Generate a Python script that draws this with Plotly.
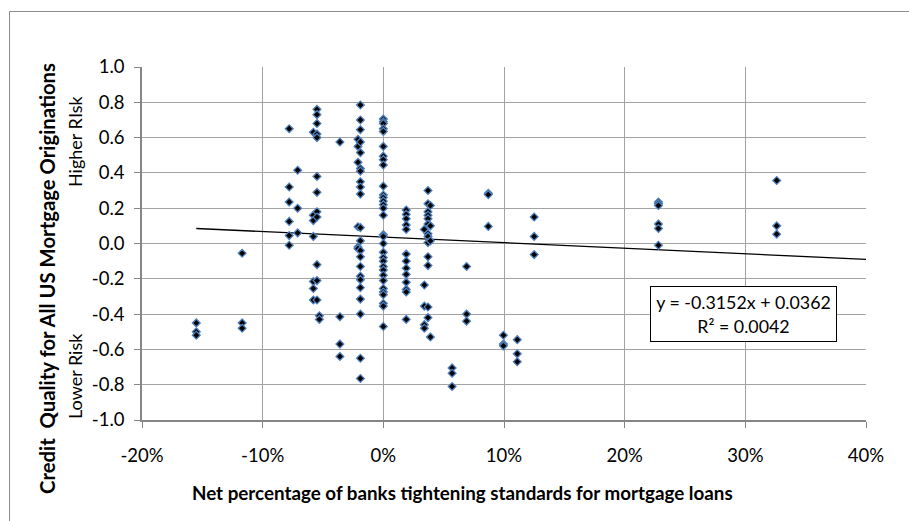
import plotly.graph_objects as go

# Net percentage of banks tightening mortgage standards (one value per group)
tightening = [-0.155, -0.117, -0.078, -0.071, -0.058, -0.055, -0.053, -0.036,
              -0.021, -0.019, 0.0, 0.019, 0.034, 0.037, 0.039, 0.057, 0.069,
              0.087, 0.0995, 0.111, 0.125, 0.228, 0.326]

# Credit quality readings observed at each tightening level
q_m155 = [-0.45, -0.50, -0.52]
q_m117 = [-0.055, -0.45, -0.48]
q_m078 = [0.65, 0.32, 0.235, 0.125, 0.045, -0.01]
q_m071 = [0.415, 0.20, 0.06]
q_m058 = [0.63, 0.16, 0.13, 0.04, -0.215, -0.255, -0.32]
q_m055 = [0.76, 0.73, 0.68, 0.62, 0.60, 0.38, 0.29, 0.18, 0.15, -0.12, -0.21, -0.32]
q_m053 = [-0.41, -0.43]
q_m036 = [0.575, -0.415, -0.57, -0.64]
q_m021 = [0.59, 0.55, 0.46, 0.095, -0.02, -0.03]
q_m019 = [0.785, 0.70, 0.645, 0.575, 0.515, 0.425, 0.41, 0.35, 0.32, 0.28, 0.09,
          0.015, -0.04, -0.075, -0.13, -0.185, -0.205, -0.25, -0.315, -0.40,
          -0.65, -0.765]
q_p000 = [0.705, 0.69, 0.68, 0.65, 0.635, 0.55, 0.495, 0.475, 0.445, 0.325, 0.275,
          0.26, 0.24, 0.22, 0.20, 0.16, 0.05, 0.04, 0.0, -0.05, -0.08, -0.10,
          -0.13, -0.15, -0.18, -0.21, -0.255, -0.275, -0.29, -0.34, -0.355, -0.47]
q_p019 = [0.19, 0.165, 0.14, 0.105, 0.08, -0.06, -0.10, -0.14, -0.175, -0.22,
          -0.26, -0.275, -0.43]
q_p034 = [0.08, -0.235, -0.355, -0.46, -0.48]
q_p037 = [0.30, 0.225, 0.18, 0.16, 0.14, 0.11, 0.055, 0.04, 0.005, -0.075,
          -0.125, -0.36, -0.42]
q_p039 = [0.215, 0.10, 0.015, -0.53]
q_p057 = [-0.705, -0.735, -0.81]
q_p069 = [-0.13, -0.40, -0.44]
q_p087 = [0.285, 0.277, 0.097]
q_p0995 = [-0.52, -0.57, -0.58]
q_p111 = [-0.545, -0.625, -0.67]
q_p125 = [0.15, 0.04, -0.063]
q_p228 = [0.235, 0.225, 0.215, 0.11, 0.085, -0.01]
q_p326 = [0.357, 0.10, 0.053]

quality_groups = [q_m155, q_m117, q_m078, q_m071, q_m058, q_m055, q_m053, q_m036,
                  q_m021, q_m019, q_p000, q_p019, q_p034, q_p037, q_p039, q_p057,
                  q_p069, q_p087, q_p0995, q_p111, q_p125, q_p228, q_p326]

# Linear trend as stated in the equation label
trend_slope = -0.3152
trend_intercept = 0.0362
trend_r2 = 0.0042
trend_x_end = 0.40

# Axis ticks
x_ticks = [-0.2, -0.1, 0.0, 0.1, 0.2, 0.3, 0.4]
x_tick_text = ["-20%", "-10%", "0%", "10%", "20%", "30%", "40%"]
y_ticks = [-1.0, -0.8, -0.6, -0.4, -0.2, 0.0, 0.2, 0.4, 0.6, 0.8, 1.0]
y_tick_text = ["-1.0", "-0.8", "-0.6", "-0.4", "-0.2", "0.0", "0.2", "0.4", "0.6", "0.8", "1.0"]

xs, ys = [], []
for xv, grp in zip(tightening, quality_groups):
    for yv in grp:
        xs.append(xv)
        ys.append(yv)

FONT = "Lato, 'Open Sans', sans-serif"
GRID = "#a3a3a3"
AXIS = "#868686"
TICK_SIZE = 18.5

fig = go.Figure()

trend_x = [min(xs), trend_x_end]
trend_y = [trend_slope * v + trend_intercept for v in trend_x]
fig.add_trace(go.Scatter(
    x=trend_x, y=trend_y, mode="lines",
    line=dict(color="black", width=1.3),
    hoverinfo="skip", showlegend=False,
))

fig.add_trace(go.Scatter(
    x=xs, y=ys, mode="markers",
    marker=dict(symbol="diamond", size=6, color="black",
                line=dict(color="#4f81bd", width=1.3)),
    showlegend=False,
))

fig.update_xaxes(
    range=[-0.2, 0.4], tickvals=x_ticks, ticktext=x_tick_text,
    showgrid=True, gridcolor=GRID, gridwidth=1.3,
    showline=True, linecolor=AXIS, linewidth=1.5,
    ticks="outside", ticklen=6, tickcolor=AXIS, tickwidth=1.3,
    zeroline=False, tickfont=dict(family=FONT, size=TICK_SIZE, color="black"),
    ticklabelstandoff=12,
)
fig.update_yaxes(
    range=[-1.0, 1.0], tickvals=y_ticks, ticktext=y_tick_text,
    showgrid=True, gridcolor=GRID, gridwidth=1.3,
    showline=True, linecolor=AXIS, linewidth=1.5,
    ticks="outside", ticklen=6, tickcolor=AXIS, tickwidth=1.3,
    zeroline=False, tickfont=dict(family=FONT, size=TICK_SIZE, color="black"),
    ticklabelstandoff=6,
)

L, R, T, B = 142, 43, 67, 101
W, H = 909, 521
pw, ph = W - L - R, H - T - B


def px(xp):
    return (xp - L) / pw


def py(yp):
    return (H - B - yp) / ph


annotations = [
    dict(text="<b>Net percentage of banks tightening standards for mortgage loans</b>",
         x=px(462), y=py(492), xanchor="center", yanchor="middle",
         font=dict(size=18.8)),
    dict(text="<b>Credit  Quality for All US Mortgage Originations</b>",
         x=px(47), y=py(279), xanchor="center", yanchor="middle",
         textangle=-90, font=dict(size=20.3)),
    dict(text="Higher RIsk", x=px(75), y=py(142), xanchor="center",
         yanchor="middle", textangle=-90, font=dict(size=18)),
    dict(text="Lower Risk", x=px(75), y=py(376), xanchor="center",
         yanchor="middle", textangle=-90, font=dict(size=18)),
    dict(text=f"y = {trend_slope:.4f}x + {trend_intercept:.4f}<br>R² = {trend_r2:.4f}",
         x=px(743.5), y=py(314), xanchor="center", yanchor="middle",
         font=dict(size=17.8), bordercolor="black", borderwidth=1,
         bgcolor="white", width=183, height=52, borderpad=1),
]
for a in annotations:
    a.update(xref="paper", yref="paper", showarrow=False)
    a["font"].update(family=FONT, color="black")

fig.update_layout(
    width=W, height=H,
    margin=dict(l=L, r=R, t=T, b=B),
    paper_bgcolor="white", plot_bgcolor="white",
    font=dict(family=FONT, color="black"),
    annotations=annotations,
    shapes=[dict(type="rect", xref="paper", yref="paper",
                 x0=px(9.5), x1=px(930), y0=py(540), y1=py(11.5),
                 line=dict(color="#8c8c8c", width=1), layer="below")],
)

fig.write_html("out.html")
